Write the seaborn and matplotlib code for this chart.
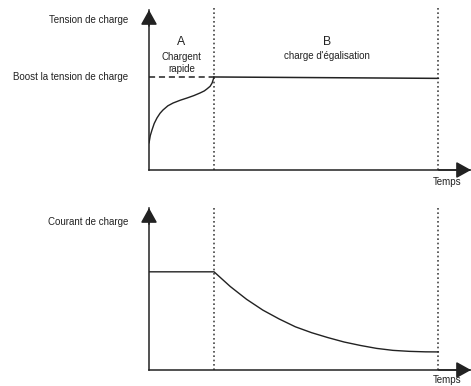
import matplotlib
matplotlib.use("Agg")
import matplotlib.pyplot as plt
import seaborn as sns

# time axis: phase A ends at 1.0, phase B ends at 4.45
t_phase_a_end = 1.0
t_phase_b_end = 4.45

# voltage during phase A
volt_a_t = [0.0, 0.02, 0.046, 0.08, 0.123, 0.17, 0.215, 0.29, 0.37, 0.48, 0.585, 0.69, 0.785, 0.85, 0.89, 0.94, 0.97, 1.0]
volt_a_v = [0.29, 0.37, 0.43, 0.50, 0.56, 0.61, 0.645, 0.69, 0.72, 0.75, 0.774, 0.80, 0.828, 0.85, 0.871, 0.90, 0.935, 1.0]
# voltage during phase B
volt_b_t = [1.0, 4.45]
volt_b_v = [1.0, 0.985]
boost_level = 1.0

# current
curr_t = [0.0, 1.0, 1.25, 1.5, 1.75, 2.0, 2.25, 2.5, 2.75, 3.0, 3.25, 3.5, 3.75, 4.0, 4.25, 4.45]
curr_i = [1.0, 1.0, 0.85, 0.72, 0.61, 0.52, 0.44, 0.38, 0.33, 0.285, 0.25, 0.22, 0.20, 0.19, 0.185, 0.184]

ink = "#222222"
sns.set_theme(style="white")
plt.rcParams["font.family"] = ["Liberation Sans", "DejaVu Sans"]

fig = plt.figure(figsize=(4.71, 3.86), dpi=100)
ax1 = fig.add_axes([149 / 471, (386 - 170) / 386, 322 / 471, 160 / 386])
ax2 = fig.add_axes([149 / 471, (386 - 370) / 386, 322 / 471, 162 / 386])


def style_axis(ax, ytop):
    ax.set_xlim(0, 4.95)
    ax.set_ylim(0, ytop)
    ax.set_xticks([])
    ax.set_yticks([])
    ax.set_facecolor("none")
    for s in ["top", "right"]:
        ax.spines[s].set_visible(False)
    for s in ["left", "bottom"]:
        ax.spines[s].set_color(ink)
        ax.spines[s].set_linewidth(1.1)
    arrow = dict(arrowstyle="-|>,head_length=0.9,head_width=0.5", mutation_scale=10,
                 color=ink, lw=1.1, shrinkA=0, shrinkB=0)
    ax.annotate("", xy=(1, 0), xytext=(0.9, 0), xycoords="axes fraction",
                arrowprops=arrow, annotation_clip=False)
    ax.annotate("", xy=(0, 1), xytext=(0, 0.9), xycoords="axes fraction",
                arrowprops=arrow, annotation_clip=False)
    for xv in [t_phase_a_end, t_phase_b_end]:
        ax.axvline(xv, ymin=0, ymax=1.01, color="#444444", ls=(0, (1, 1.6)), lw=1.2, clip_on=False)


style_axis(ax1, 1.72)
style_axis(ax2, 1.65)

# top panel
ax1.plot([0, t_phase_a_end], [boost_level, boost_level], color=ink, ls=(0, (4, 2.5)), lw=1.1)
sns.lineplot(x=volt_a_t, y=volt_a_v, ax=ax1, color=ink, lw=1.0, sort=False, estimator=None)
sns.lineplot(x=volt_b_t, y=volt_b_v, ax=ax1, color=ink, lw=1.1, sort=False, estimator=None)

fs = 7.0
ax1.text(-0.32, 1.61, "Tension de charge", ha="right", va="center", fontsize=fs, color=ink, clip_on=False)
ax1.text(-0.32, boost_level, "Boost la tension de charge", ha="right", va="center", fontsize=fs, color=ink, clip_on=False)
ax1.text(0.5, 1.376, "A", ha="center", va="center", fontsize=8.8, color=ink)
ax1.text(0.5, 1.15, "Chargent\nrapide", ha="center", va="center", fontsize=fs, color=ink, linespacing=1.35)
ax1.text(2.74, 1.376, "B", ha="center", va="center", fontsize=8.8, color=ink)
ax1.text(2.74, 1.226, "charge d'égalisation", ha="center", va="center", fontsize=fs, color=ink)
ax1.text(4.58, -0.13, "Temps", ha="center", va="center", fontsize=fs, color=ink, clip_on=False)

# bottom panel
sns.lineplot(x=curr_t, y=curr_i, ax=ax2, color=ink, lw=1.0, sort=False, estimator=None)
ax2.text(-0.32, 1.51, "Courant de charge", ha="right", va="center", fontsize=fs, color=ink, clip_on=False)
ax2.text(4.58, -0.105, "Temps", ha="center", va="center", fontsize=fs, color=ink, clip_on=False)

for ax in (ax1, ax2):
    ax.set_xlabel("")
    ax.set_ylabel("")

fig.savefig("out.png", dpi=100)
plt.close(fig)
